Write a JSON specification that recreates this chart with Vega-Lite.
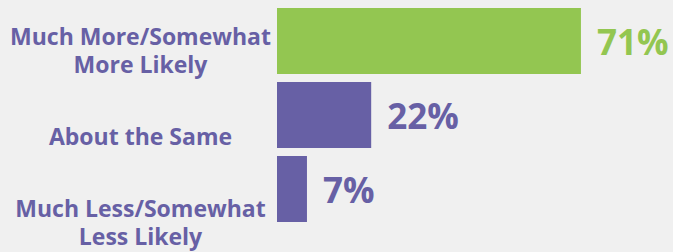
{
  "$schema": "https://vega.github.io/schema/vega-lite/v6.json",
  "width": 396,
  "height": 230,
  "autosize": {"type": "none"},
  "padding": {"left": 277, "top": 0, "right": 0, "bottom": 22},
  "background": "#f0f0f0",
  "config": {"view": {"stroke": null}},
  "data": {
    "values": [
      {"category": "Much More/Somewhat\nMore Likely", "value": 71, "label": "71%"},
      {"category": "About the Same", "value": 22, "label": "22%"},
      {"category": "Much Less/Somewhat\nLess Likely", "value": 7, "label": "7%"}
    ]
  },
  "layer": [
    {
      "encoding": {
        "y": {"field": "category", "type": "nominal", "sort": null,
              "scale": {"paddingInner": 0.108, "paddingOuter": 0.108}, "axis": null},
        "x": {"field": "value", "type": "quantitative",
              "scale": {"domain": [0, 92.5], "nice": false, "zero": true}, "axis": null},
        "color": {"field": "category", "type": "nominal", "sort": null,
                  "scale": {"range": ["#93C651", "#6760A5", "#6760A5"]}, "legend": null}
      },
      "layer": [
        {"mark": {"type": "bar"}},
        {"mark": {"type": "text", "align": "left", "baseline": "middle", "dx": 16, "dy": 3,
                  "font": "Open Sans", "fontWeight": "bold", "fontSize": 35},
         "encoding": {"text": {"field": "label"}}}
      ]
    },
    {
      "mark": {"type": "point", "opacity": 0},
      "encoding": {
        "y": {"field": "category", "type": "nominal", "sort": null,
              "scale": {"type": "point", "padding": 0.337, "align": 0.88},
              "axis": {"orient": "left", "title": null, "domain": false, "ticks": false, "tickSize": 0,
                       "grid": false, "labelPadding": 137, "labelAlign": "center", "labelBaseline": "middle",
                       "labelOffset": {"condition": {"test": "indexof(datum.label, '\\n') >= 0", "value": -14}, "value": 0},
                       "labelFont": "Open Sans", "labelFontWeight": "bold", "labelFontSize": 23,
                       "labelColor": "#6760A5", "labelLineHeight": 28, "labelLimit": 400,
                       "labelOverlap": false, "labelBound": false,
                       "labelExpr": "split(datum.label, '\\n')"}}
      }
    }
  ],
  "resolve": {"scale": {"y": "independent"}}
}
